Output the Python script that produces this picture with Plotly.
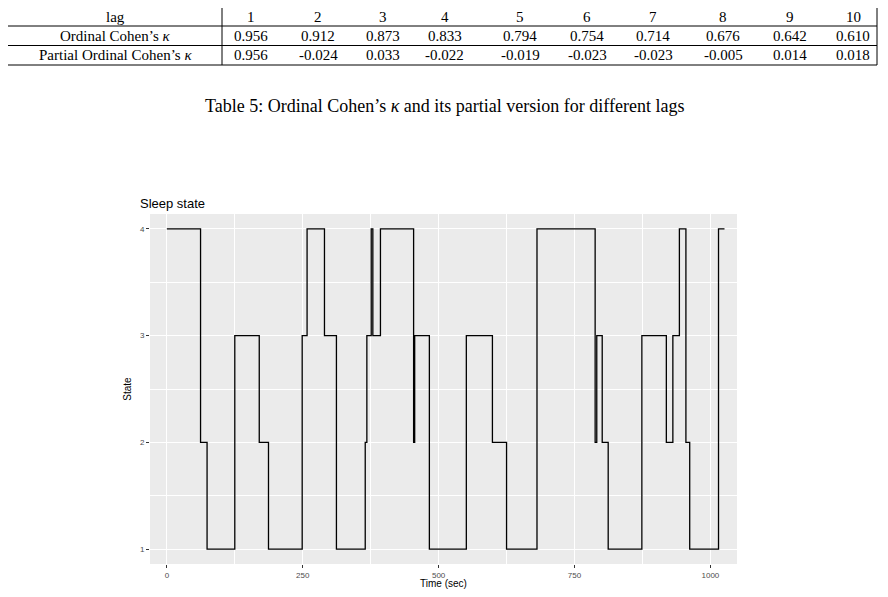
import plotly.graph_objects as go

# ---- data ----
lags = [1, 2, 3, 4, 5, 6, 7, 8, 9, 10]
ordinal_kappa = ["0.956", "0.912", "0.873", "0.833", "0.794", "0.754", "0.714", "0.676", "0.642", "0.610"]
partial_kappa = ["0.956", "-0.024", "0.033", "-0.022", "-0.019", "-0.023", "-0.023", "-0.005", "0.014", "0.018"]
row_labels = ["lag", "Ordinal Cohen’s <i>κ</i>", "Partial Ordinal Cohen’s <i>κ</i>"]

time_sec = [0, 62, 74, 125, 170, 187, 249, 258, 290, 312, 365, 368, 376, 379, 393, 454, 456, 483,
            551, 599, 625, 681, 788, 791, 801, 812, 874, 919, 931, 943, 955, 962, 1015, 1026]
state = [4, 2, 1, 3, 2, 1, 3, 4, 3, 1, 2, 3, 4, 3, 4, 2, 3, 1,
         3, 2, 1, 4, 2, 3, 2, 1, 3, 2, 3, 4, 2, 1, 4, 4]

OFF = 8  # page body margin
W, H = 888 - 2 * OFF, 597 - 2 * OFF
def px(x): return (x - OFF) / W
def py(y): return 1 - (y - OFF) / H

fig = go.Figure()
fig.add_trace(go.Scatter(x=time_sec, y=state, mode="lines", line_shape="hv",
                         line=dict(color="black", width=1.3), showlegend=False, hoverinfo="skip"))

axis_common = dict(showgrid=True, gridcolor="white", gridwidth=1.2, zeroline=False,
                   ticks="outside", ticklen=3, tickcolor="#333333", tickwidth=0.8,
                   tickfont=dict(family="Liberation Sans", size=8, color="#4D4D4D"),
                   showline=False)
fig.update_layout(
    width=W, height=H, margin=dict(l=0, r=0, t=0, b=0),
    paper_bgcolor="white", plot_bgcolor="#EBEBEB",
    xaxis=dict(domain=[px(150), px(737)], range=[-31, 1049], tickvals=[0, 250, 500, 750, 1000],
               minor=dict(tickvals=[125, 375, 625, 875], showgrid=True, gridcolor="white", gridwidth=0.6, ticks=""),
               title=dict(text="Time (sec)", font=dict(family="Liberation Sans", size=10, color="black"), standoff=2),
               **axis_common),
    yaxis=dict(domain=[py(564), py(214)], range=[0.86, 4.14], tickvals=[1, 2, 3, 4],
               minor=dict(tickvals=[1.5, 2.5, 3.5], showgrid=True, gridcolor="white", gridwidth=0.6, ticks=""),
               title=dict(text="State", font=dict(family="Liberation Sans", size=10, color="black"), standoff=6),
               **axis_common),
)

fig.add_annotation(x=px(138), y=py(203), xref="paper", yref="paper", text="Sleep state",
                   showarrow=False, xanchor="left", yanchor="middle",
                   font=dict(family="Liberation Sans", size=13, color="black"))

# ---- table ----
serif = "Liberation Serif"
tcol = "black"
left, right, sep = 7, 877, 222
rows_y = [7, 26, 45.5, 65]
shapes = []
for yy in rows_y:
    shapes.append(dict(type="line", xref="paper", yref="paper", x0=px(left), x1=px(right),
                       y0=py(yy), y1=py(yy), line=dict(color=tcol, width=1)))
for xx in [left, sep, right]:
    shapes.append(dict(type="line", xref="paper", yref="paper", x0=px(xx), x1=px(xx),
                       y0=py(rows_y[0]), y1=py(rows_y[-1]), line=dict(color=tcol, width=1)))
fig.update_layout(shapes=shapes)

col_x = [251, 318, 383, 445, 520, 587, 653, 723, 790, 853]
rows = [[str(v) for v in lags], ordinal_kappa, partial_kappa]
for r in range(3):
    yc = (rows_y[r] + rows_y[r + 1]) / 2
    fig.add_annotation(x=px(115), y=py(yc), xref="paper", yref="paper", text=row_labels[r],
                       showarrow=False, xanchor="center", yanchor="middle",
                       font=dict(family=serif, size=15, color=tcol))
    for c in range(10):
        fig.add_annotation(x=px(col_x[c]), y=py(yc), xref="paper", yref="paper", text=rows[r][c],
                           showarrow=False, xanchor="center", yanchor="middle",
                           font=dict(family=serif, size=15, color=tcol))

fig.add_annotation(x=px(444), y=py(106), xref="paper", yref="paper",
                   text="Table 5: Ordinal Cohen’s <i>κ</i> and its partial version for different lags",
                   showarrow=False, xanchor="center", yanchor="middle",
                   font=dict(family=serif, size=18, color=tcol))

fig.write_html("out.html")
